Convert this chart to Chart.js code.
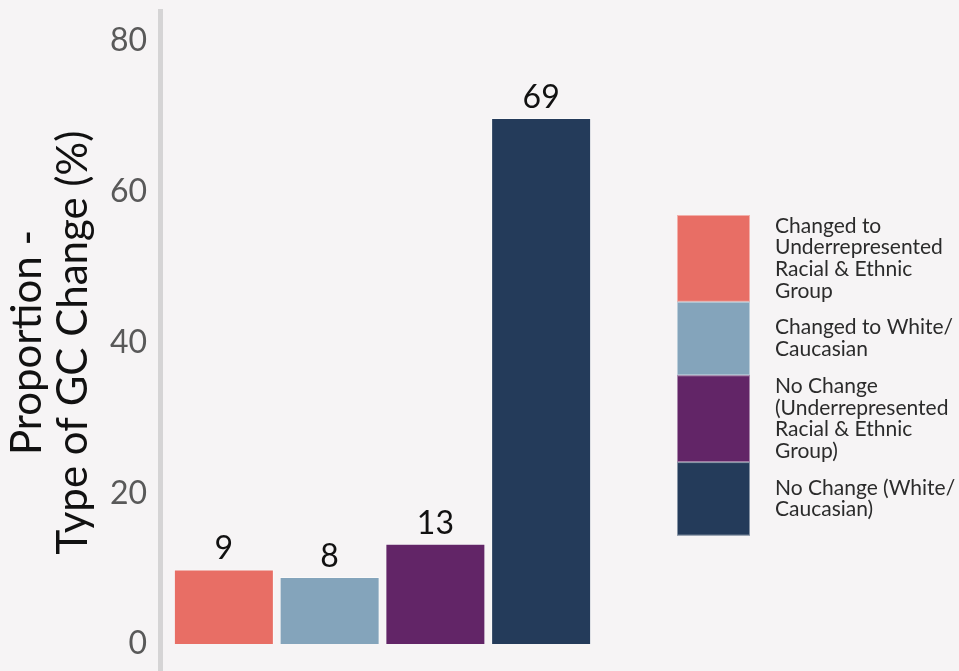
<!DOCTYPE html>
<html>
<head>
<meta charset="utf-8">
<script src="https://cdn.jsdelivr.net/npm/chart.js@4"></script>
<style>
  html, body { margin: 0; padding: 0; background: #f6f4f5; }
  #wrap { width: 959px; height: 671px; }
</style>
</head>
<body>
<div id="wrap"><canvas id="gcChart" width="959" height="671"></canvas></div>
<script>
// datos
const categories = [
  'Changed to Underrepresented Racial & Ethnic Group',
  'Changed to White/Caucasian',
  'No Change (Underrepresented Racial & Ethnic Group)',
  'No Change (White/Caucasian)'
];
const legendLines = [
  ['Changed to', 'Underrepresented', 'Racial & Ethnic', 'Group'],
  ['Changed to White/', 'Caucasian'],
  ['No Change', '(Underrepresented', 'Racial & Ethnic', 'Group)'],
  ['No Change (White/', 'Caucasian)']
];
const proportions = [9.9, 8.9, 13.3, 69.8];   // alto de barra (%)
const valueLabels = ['9', '8', '13', '69'];    // texto sobre cada barra
const yTicks = [0, 20, 40, 60, 80];
const colors = ['#e86e65', '#84a4bb', '#622567', '#243b5a'];

const bg = '#f6f4f5';

// fondo + línea del eje
const backdrop = {
  id: 'backdrop',
  beforeDraw(chart) {
    const ctx = chart.ctx;
    ctx.save();
    ctx.fillStyle = bg;
    ctx.fillRect(0, 0, chart.width, chart.height);
    ctx.fillStyle = '#d5d4d5';
    ctx.fillRect(158, 9, 5, chart.height - 9);
    ctx.restore();
  }
};

// etiquetas encima de las barras
const barLabels = {
  id: 'barLabels',
  afterDatasetsDraw(chart) {
    const ctx = chart.ctx;
    const meta = chart.getDatasetMeta(0);
    ctx.save();
    ctx.font = '32px Lato';
    ctx.fillStyle = '#111111';
    ctx.textAlign = 'center';
    ctx.textBaseline = 'alphabetic';
    meta.data.forEach((bar, i) => {
      ctx.fillText(valueLabels[i], bar.x, bar.y - 10);
    });
    ctx.restore();
  }
};

// leyenda a mano (cajas apiladas, alto segun lineas)
const sideLegend = {
  id: 'sideLegend',
  afterDraw(chart) {
    const ctx = chart.ctx;
    const x = 677, w = 73, lh = 21.7, minH = 73.5;
    let y = 215;
    ctx.save();
    ctx.font = '21px Lato';
    ctx.textBaseline = 'middle';
    ctx.textAlign = 'left';
    legendLines.forEach((lines, i) => {
      const h = Math.max(minH, lines.length * lh);
      ctx.fillStyle = colors[i];
      ctx.fillRect(x, y, w, h);
      ctx.strokeStyle = 'rgba(255,255,255,0.45)';
      ctx.lineWidth = 1;
      ctx.strokeRect(x + 0.5, y + 0.5, w - 1, h - 1);
      ctx.fillStyle = '#2b2b2b';
      const top = y + h / 2 - (lines.length * lh) / 2;
      lines.forEach((t, j) => ctx.fillText(t, 775, top + lh * (j + 0.5)));
      y += h;
    });
    ctx.restore();
  }
};

const chart = new Chart(document.getElementById('gcChart'), {
  type: 'bar',
  data: {
    labels: categories,
    datasets: [{
      data: proportions,
      backgroundColor: colors,
      borderColor: 'rgba(255,255,255,0.45)',
      borderWidth: 1,
      categoryPercentage: 1,
      barPercentage: 0.9456
    }]
  },
  options: {
    responsive: false,
    animation: false,
    layout: { padding: { left: 0, top: 41, bottom: 27, right: 365 } },
    plugins: { legend: { display: false }, tooltip: { enabled: false } },
    scales: {
      x: { display: false },
      y: {
        min: 0, max: 80,
        // ancho fijo y sin relleno extra arriba/abajo
        afterFit: s => { s.width = 171; s.paddingTop = 0; s.paddingBottom = 0; },
        afterBuildTicks: s => { s.ticks = yTicks.map(v => ({ value: v })); },
        grid: { display: false, drawTicks: false, tickLength: 0 },
        border: { display: false },
        ticks: { padding: 24, color: '#595959', font: { family: 'Lato', size: 32 } },
        title: {
          display: true,
          text: ['Proportion -', 'Type of GC Change (%)'],
          color: '#111111',
          padding: { top: 4, bottom: 0 },
          font: { family: 'Lato', size: 42, lineHeight: 1.1 }
        }
      }
    }
  },
  plugins: [backdrop, barLabels, sideLegend]
});
</script>
</body>
</html>
